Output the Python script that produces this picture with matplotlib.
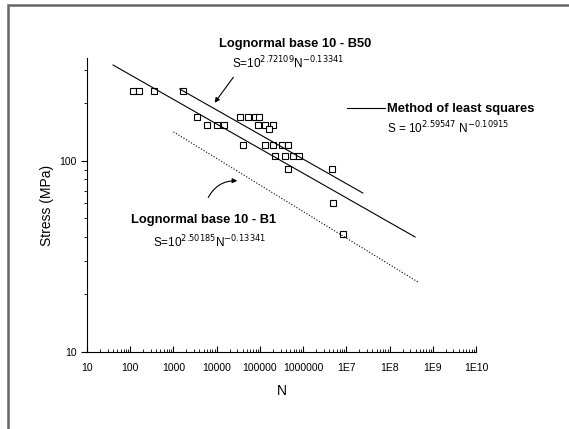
import matplotlib.pyplot as plt
from matplotlib.patches import Rectangle
from matplotlib.ticker import LogLocator, FixedLocator, FixedFormatter, NullFormatter

plt.rcParams['font.family'] = ['Liberation Sans', 'DejaVu Sans']

# test data
N_DATA = [116, 160, 355, 1660, 3500, 6000, 10200, 14900, 34600, 53000, 77000, 96000,
          91000, 133000, 203000, 163000, 40500, 133000, 203000, 320000, 450000,
          220000, 380000, 590000, 810000, 450000, 4700000, 4900000, 8500000]
S_DATA = [232, 232, 232, 232, 170, 154, 154, 154, 170, 170, 170, 170,
          154, 154, 154, 147, 121, 121, 121, 121, 121,
          106, 106, 106, 106, 91, 91, 60, 41.5]

# fitted lines (end points)
B50_N = [1.4e3, 2.4e7]
B50_S = [238, 68]
LSQ_N = [40, 3.9e8]
LSQ_S = [318, 40]
B1_N = [1.0e3, 4.9e8]
B1_S = [142, 23]

X_TICKS = [1e1, 1e2, 1e3, 1e4, 1e5, 1e6, 1e7, 1e8, 1e9, 1e10]
X_LABELS = ['10', '100', '1000', '10000', '100000', '1000000', '1E7', '1E8', '1E9', '1E10']
Y_TICKS = [10, 100]
Y_LABELS = ['10', '100']

fig = plt.figure(figsize=(5.69, 4.29), dpi=100)
ax = fig.add_axes([87 / 569, 77 / 429, 389 / 569, 294 / 429])

ax.plot(N_DATA, S_DATA, 's', mfc='white', mec='black', ms=4.5, mew=0.8)
ax.plot(B50_N, B50_S, '-', color='black', lw=0.8)
ax.plot(LSQ_N, LSQ_S, '-', color='black', lw=0.8)
ax.plot(B1_N, B1_S, ':', color='black', lw=0.8)

ax.set_xscale('log')
ax.set_yscale('log')
ax.set_xlim(10, 1e10)
ax.set_ylim(10, 346)

ax.xaxis.set_major_locator(FixedLocator(X_TICKS))
ax.xaxis.set_major_formatter(FixedFormatter(X_LABELS))
ax.xaxis.set_minor_locator(LogLocator(base=10, subs=range(2, 10), numticks=20))
ax.xaxis.set_minor_formatter(NullFormatter())
ax.yaxis.set_major_locator(FixedLocator(Y_TICKS))
ax.yaxis.set_major_formatter(FixedFormatter(Y_LABELS))
ax.yaxis.set_minor_locator(LogLocator(base=10, subs=range(2, 10), numticks=20))
ax.yaxis.set_minor_formatter(NullFormatter())

ax.spines['top'].set_visible(False)
ax.spines['right'].set_visible(False)
ax.tick_params(axis='x', which='major', direction='in', length=4, width=0.8, labelsize=7.5, pad=8)
ax.tick_params(axis='x', which='minor', direction='in', length=2, width=0.6)
ax.tick_params(axis='y', which='major', direction='out', length=4, width=0.8, labelsize=7.5)
ax.tick_params(axis='y', which='minor', direction='out', length=2, width=0.6)

ax.set_xlabel('N', fontsize=10, labelpad=8)
ax.set_ylabel('Stress (MPa)', fontsize=10, labelpad=4)

# annotations
fig.text(295 / 569, 1 - 44 / 429, 'Lognormal base 10 - B50', fontsize=9.3, weight='bold', ha='center', va='center')
fig.text(232 / 569, 1 - 63 / 429, r'S=10$^{2.72109}$N$^{-0.13341}$', fontsize=8.5, ha='left', va='center')
fig.text(387 / 569, 1 - 109 / 429, 'Method of least squares', fontsize=9.3, weight='bold', ha='left', va='center')
fig.text(387 / 569, 1 - 128 / 429, r'S = 10$^{2.59547}$ N$^{-0.10915}$', fontsize=8.5, ha='left', va='center')
fig.text(131 / 569, 1 - 220 / 429, 'Lognormal base 10 - B1', fontsize=9.3, weight='bold', ha='left', va='center')
fig.text(153 / 569, 1 - 242 / 429, r'S=10$^{2.50185}$N$^{-0.13341}$', fontsize=8.5, ha='left', va='center')

fig.add_artist(plt.Line2D([347 / 569, 385 / 569], [1 - 108 / 429, 1 - 108 / 429],
                          transform=fig.transFigure, color='black', lw=0.8))
ax.annotate('', xy=(213 / 569, 1 - 105 / 429), xytext=(235 / 569, 1 - 75 / 429),
            xycoords='figure fraction', textcoords='figure fraction',
            arrowprops=dict(arrowstyle='-|>', color='black', lw=0.8, mutation_scale=7))
ax.annotate('', xy=(240 / 569, 1 - 181 / 429), xytext=(207 / 569, 1 - 200 / 429),
            xycoords='figure fraction', textcoords='figure fraction',
            arrowprops=dict(arrowstyle='-|>', color='black', lw=0.8, mutation_scale=7,
                            connectionstyle='arc3,rad=-0.35'))

# screenshot frame
fig.add_artist(Rectangle((8 / 569, -0.1), 1.2, 1 - 5 / 429 + 0.1, transform=fig.transFigure,
                         fill=False, edgecolor='#666666', lw=1.8))

fig.savefig('out.png', dpi=100)
